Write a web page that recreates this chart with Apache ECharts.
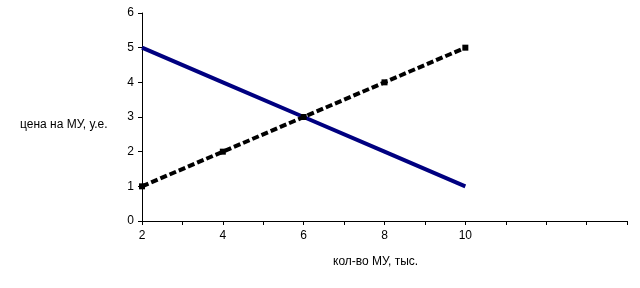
<!DOCTYPE html>
<html><head><meta charset="utf-8">
<script src="https://cdn.jsdelivr.net/npm/echarts@6/dist/echarts.min.js"></script>
<style>html,body{margin:0;padding:0;background:#fff}#c{width:640px;height:288px}</style>
</head><body><div id="c"></div>
<script>
var quantity = [2, 4, 6, 8, 10];
var demand = [5, 4, 3, 2, 1];
var supply = [1, 2, 3, 4, 5];
var xLabels = [2, 4, 6, 8, 10];
var yTitle = 'цена на МУ, у.е.';
var xTitle = 'кол-во МУ, тыс.';

var chart = echarts.init(document.getElementById('c'), null, {renderer: 'canvas'});
var font = 'Liberation Sans, Arial, sans-serif';
function pairs(xs, ys) { return xs.map(function (x, i) { return [x, ys[i]]; }); }
chart.setOption({
  animation: false,
  grid: {left: 142, right: 13, top: 13, bottom: 67},
  xAxis: {
    type: 'value', min: 2, max: 14, interval: 1,
    axisLine: {lineStyle: {color: '#000', width: 1}},
    axisTick: {show: true, length: 4, lineStyle: {color: '#000'}},
    axisLabel: {color: '#000', fontFamily: font, fontSize: 12, margin: 9,
      formatter: function (v) { return xLabels.indexOf(v) >= 0 ? String(v) : ''; }},
    splitLine: {show: false}
  },
  yAxis: {
    type: 'value', min: 0, max: 6, interval: 1,
    axisLine: {show: true, lineStyle: {color: '#000', width: 1}},
    axisTick: {show: true, length: 4, lineStyle: {color: '#000'}},
    axisLabel: {color: '#000', fontFamily: font, fontSize: 12, margin: 8},
    splitLine: {show: false}
  },
  graphic: [
    {type: 'text', left: 20, top: 119, style: {text: yTitle, font: '12px ' + font, fill: '#000'}},
    {type: 'text', left: 333, top: 256, style: {text: xTitle, font: '12px ' + font, fill: '#000'}}
  ],
  series: [
    {type: 'line', data: pairs(quantity, demand), symbol: 'none',
      itemStyle: {color: '#000080'}, lineStyle: {color: '#000080', width: 4}},
    {type: 'line', data: pairs(quantity, supply), symbol: 'rect', symbolSize: 6,
      itemStyle: {color: '#000'}, lineStyle: {color: '#000', width: 4, type: [7, 3]}}
  ]
});
</script></body></html>
